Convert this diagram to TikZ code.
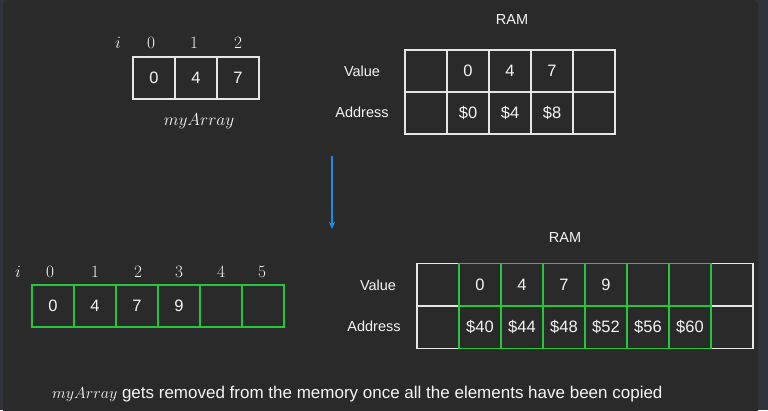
\RequirePackage{fix-cm}
\documentclass[tikz,border=0pt]{standalone}
\usepackage[no-math]{fontspec}
\newfontfamily\arial{Liberation Sans}
\usetikzlibrary{arrows.meta}
\definecolor{outerbg}{HTML}{30333A}
\definecolor{panelbg}{HTML}{2A2A2A}
\definecolor{wline}{HTML}{E6E6E6}
\definecolor{gline}{HTML}{22C83A}
\definecolor{txt}{HTML}{F4F4F4}
\definecolor{arrowblue}{HTML}{1A8AE8}
\tikzset{
  cellw/.style={draw=wline, line width=1.5pt, minimum width=42pt, minimum height=42pt,
    inner sep=0pt, text=txt, font=\arial\fontsize{16.5}{19}\selectfont},
  cellg/.style={cellw, draw=gline},
  idx/.style={text=txt, inner sep=0pt, font=\fontsize{17.28}{20}\selectfont},
  lbl/.style={text=txt, inner sep=0pt, font=\arial\fontsize{14.5}{17}\selectfont},
  arrowc/.style={draw=arrowblue, line width=1.5pt, -{Stealth[length=7pt,width=6pt,inset=2pt]}}
}
\begin{document}
\begin{tikzpicture}[x=1pt,y=-1pt]
\useasboundingbox (0,0) rectangle (768,410);
\fill[outerbg] (0,0) rectangle (768,410);
\fill[panelbg, rounded corners=5pt] (3,0) rectangle (758,420);

% top array
\node[idx] (ti) at (118,43) {$i$};
\node[idx] (ti0) at (151,43) {$0$};
\node[idx] (ti1) at (194,43) {$1$};
\node[idx] (ti2) at (238,43) {$2$};
\node[cellw] (a0) at (154,78) {0};
\node[cellw] (a1) at (196,78) {4};
\node[cellw] (a2) at (238,78) {7};
\node[idx] (aname) at (199,121) {$myArray$};

% top RAM
\node[lbl] (ram1) at (512,20) {RAM};
\node[lbl] (val1) at (362,71) {Value};
\node[lbl] (adr1) at (362,112) {Address};
\node[cellw] (r1v0) at (426,71) {};
\node[cellw] (r1v1) at (468,71) {0};
\node[cellw] (r1v2) at (510,71) {4};
\node[cellw] (r1v3) at (552,71) {7};
\node[cellw] (r1v4) at (594,71) {};
\node[cellw] (r1a0) at (426,113) {};
\node[cellw] (r1a1) at (468,113) {\$0};
\node[cellw] (r1a2) at (510,113) {\$4};
\node[cellw] (r1a3) at (552,113) {\$8};
\node[cellw] (r1a4) at (594,113) {};

% arrow
\coordinate (as) at (332,156);
\coordinate (ae) at (332,229);
\draw[arrowc] (as) -- (ae);

% bottom array
\node[idx] (bi) at (18,272) {$i$};
\node[idx] (bi0) at (50,272) {$0$};
\node[idx] (bi1) at (95,272) {$1$};
\node[idx] (bi2) at (138,272) {$2$};
\node[idx] (bi3) at (179,272) {$3$};
\node[idx] (bi4) at (221,272) {$4$};
\node[idx] (bi5) at (262,272) {$5$};
\node[cellg] (b0) at (53,306) {0};
\node[cellg] (b1) at (95,306) {4};
\node[cellg] (b2) at (137,306) {7};
\node[cellg] (b3) at (179,306) {9};
\node[cellg] (b4) at (221,306) {};
\node[cellg] (b5) at (263,306) {};

% bottom RAM
\node[lbl] (ram2) at (565,238) {RAM};
\node[lbl] (val2) at (378,285) {Value};
\node[lbl] (adr2) at (374,326) {Address};
\tikzset{rowh/.style={minimum height=42.5pt}}
\node[cellw,rowh] (r2v0) at (438,284.5) {};
\node[cellw,rowh] (r2v7) at (732,284.5) {};
\node[cellw,rowh] (r2a0) at (438,327) {};
\node[cellw,rowh] (r2a7) at (732,327) {};
\node[cellg,rowh] (r2v1) at (480,284.5) {0};
\node[cellg,rowh] (r2v2) at (522,284.5) {4};
\node[cellg,rowh] (r2v3) at (564,284.5) {7};
\node[cellg,rowh] (r2v4) at (606,284.5) {9};
\node[cellg,rowh] (r2v5) at (648,284.5) {};
\node[cellg,rowh] (r2v6) at (690,284.5) {};
\node[cellg,rowh] (r2a1) at (480,327) {\$40};
\node[cellg,rowh] (r2a2) at (522,327) {\$44};
\node[cellg,rowh] (r2a3) at (564,327) {\$48};
\node[cellg,rowh] (r2a4) at (606,327) {\$52};
\node[cellg,rowh] (r2a5) at (648,327) {\$56};
\node[cellg,rowh] (r2a6) at (690,327) {\$60};

% caption
\node[text=txt, inner sep=0pt, anchor=west, font=\arial\fontsize{17}{20}\selectfont] (cap) at (52,394)
  {{\fontsize{16}{19}\selectfont$myArray$} gets removed from the memory once all the elements have been copied};
\end{tikzpicture}
\end{document}
